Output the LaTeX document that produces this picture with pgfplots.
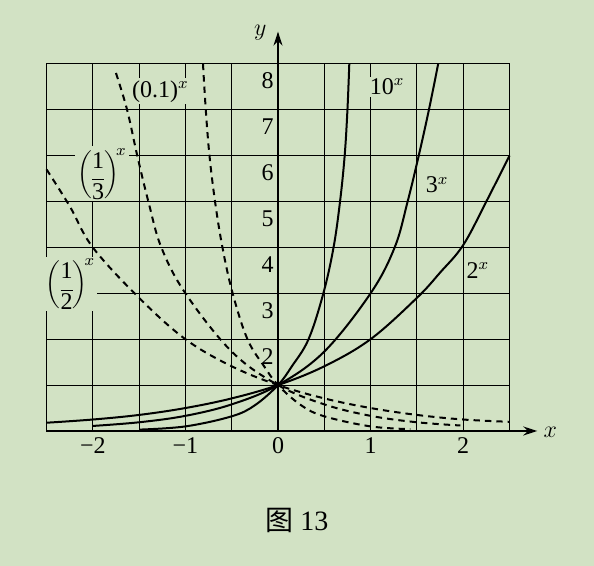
\documentclass[border=0pt]{standalone}
\usepackage{fontspec}
\setmainfont{Liberation Serif}
\newfontfamily\cjk{Noto Sans CJK SC}
\usepackage{pgfplots}
\pgfplotsset{compat=1.18}
\usetikzlibrary{arrows.meta}
\definecolor{bg}{RGB}{210,226,196}
\newcommand\fr[2]{\vcenter{\offinterlineskip\halign{\hfil##\hfil\cr\strut\vrule height 8.2pt depth 0pt width 0pt #1\cr\noalign{\kern1.2pt\hrule height 0.5pt\kern1.2pt}\vrule height 8.2pt depth 0pt width 0pt #2\cr}}}
\begin{document}
\begin{tikzpicture}
\fill[bg] (-139pt,-67.5pt) rectangle (158pt,215.5pt);
\useasboundingbox (-139pt,-67.5pt) rectangle (158pt,215.5pt);
\begin{axis}[
  anchor=origin, at={(0,0)},
  x=46.3pt, y=22.95pt,
  xmin=-2.5, xmax=2.5, ymin=0, ymax=8,
  axis lines=middle,
  axis line style={draw=none},
  hide obscured x ticks=false,
  hide obscured y ticks=false,
  xtick={-2,-1,0,1,2},
  xticklabels={−2,−1,0,1,2},
  minor xtick={-2.5,-1.5,-0.5,0.5,1.5,2.5},
  ytick={0,1,2,3,4,5,6,7,8},
  yticklabels={,,2,3,4,5,6,7,8},
  grid=both,
  major grid style={black, line width=0.55pt},
  minor grid style={black, line width=0.55pt},
  major tick length=0pt, minor tick length=0pt,
  ticklabel style={font=\fontsize{12}{14}\selectfont},
  xticklabel style={anchor=north, inner sep=1pt, yshift=-2pt},
  yticklabel style={anchor=east, inner sep=1pt, yshift=-8.5pt, xshift=-1pt},
  clip=false,
  every axis plot/.append style={black, smooth, tension=0.6},
]
% solid curves
\addplot[line width=1pt] coordinates {(-2.5,0.18) (-2,0.25) (-1.5,0.35) (-1,0.5) (-0.5,0.71) (0,1) (0.5,1.41) (1,2) (1.5,2.9) (1.75,3.45) (2,4.05) (2.25,5) (2.5,6)};
\addplot[line width=1pt] coordinates {(-2,0.11) (-1.5,0.19) (-1,0.33) (-0.5,0.58) (0,1) (0.5,1.73) (1,3) (1.26,4) (1.4,5) (1.52,6) (1.63,7) (1.73,8)};
\addplot[line width=1pt] coordinates {(-1.5,0.03) (-1,0.1) (-0.5,0.32) (-0.25,0.56) (0,1) (0.15,1.41) (0.33,2) (0.49,3) (0.6,4) (0.67,5) (0.72,6) (0.75,7) (0.77,8)};
% dashed curves
\addplot[line width=1pt, dash pattern=on 3.2pt off 2.5pt] coordinates {(-2.5,5.7) (-2.25,4.9) (-2,4) (-1.5,2.9) (-1,2) (-0.5,1.41) (0,1) (0.5,0.71) (1,0.5) (1.5,0.35) (2,0.25) (2.5,0.2)};
\addplot[line width=1pt, dash pattern=on 3.2pt off 2.5pt] coordinates {(-1.75,7.8) (-1.63,7) (-1.52,6) (-1.4,5) (-1.26,4) (-1,3) (-0.5,1.73) (0,1) (0.5,0.58) (1,0.33) (1.5,0.19) (1.97,0.12)};
\addplot[line width=1pt, dash pattern=on 3.2pt off 2.5pt] coordinates {(-0.81,8) (-0.78,7) (-0.74,6) (-0.68,5) (-0.6,4) (-0.49,3) (-0.33,2) (-0.15,1.41) (0,1) (0.25,0.56) (0.5,0.32) (1,0.1) (1.43,0.04)};
% axes
\draw[line width=0.8pt, -{Stealth[length=7pt,width=4.5pt]}] (axis cs:-2.5,0) -- (axis cs:2.8,0);
\draw[line width=0.8pt, -{Stealth[length=7pt,width=4.5pt]}] (axis cs:0,0) -- (axis cs:0,8.7);
\node[font=\fontsize{13}{15}\selectfont] at (axis cs:2.94,-0.04) {$x$};
\node[font=\fontsize{13}{15}\selectfont] at (axis cs:-0.19,8.67) {$y$};
% curve labels
\tikzset{lbl/.style={fill=bg, inner sep=1pt, font=\fontsize{12}{14}\selectfont}}
\node[lbl] at (axis cs:1.18,7.5) {10$^{x}$};
\node[lbl] at (axis cs:1.72,5.36) {3$^{x}$};
\node[lbl] at (axis cs:2.16,3.5) {2$^{x}$};
\node[lbl] at (axis cs:-1.27,7.4) {(0.1)$^{x}$};
\node[lbl] at (axis cs:-1.9,5.6) {$\left(\fr{1}{3}\right)^{\!x}$};
\node[lbl] at (axis cs:-2.24,3.2) {$\left(\fr{1}{2}\right)^{\!x}$};
% caption
\node[font=\fontsize{14}{16}\selectfont] at (axis cs:0.205,-1.94) {{\cjk 图}\ 13};
\end{axis}
\end{tikzpicture}
\end{document}
